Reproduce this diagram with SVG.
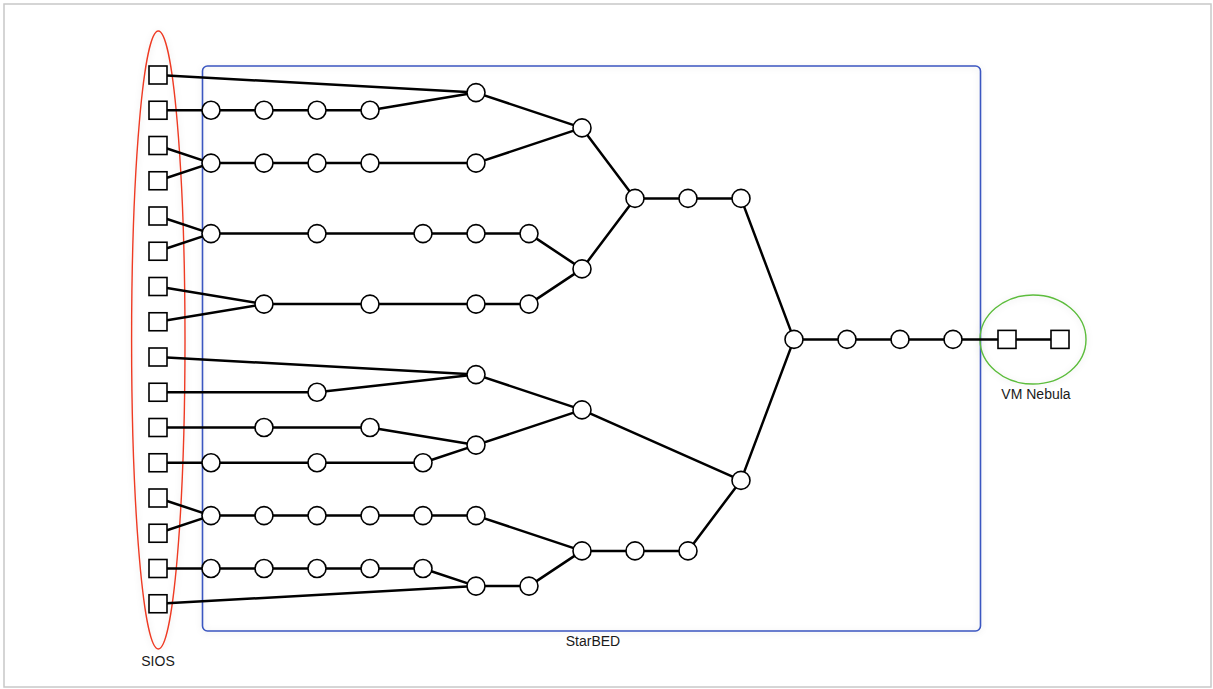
<svg xmlns="http://www.w3.org/2000/svg" width="1213" height="689" viewBox="0 0 1213 689">
<style>
.frame{fill:#ffffff;stroke:#c8c8c8;stroke-width:1.5}
.grp{fill:none;filter:url(#sh)}
.e{fill:none;stroke:#000;stroke-width:2.5;stroke-linejoin:round}
.n{fill:#fff;stroke:#000;stroke-width:1.6}
.t{font-family:"Liberation Sans",Arial,sans-serif;font-size:14px;fill:#1a1a1a;text-anchor:middle}
</style>
<defs>
<filter id="sh" x="-20%" y="-20%" width="140%" height="140%">
<feDropShadow dx="0" dy="1" stdDeviation="3" flood-color="#000" flood-opacity="0.12"/>
</filter>
</defs>
<rect class="frame" x="4" y="4" width="1207" height="683"/>
<g id="starbed">
<rect class="grp" x="202.5" y="66" width="778" height="565" rx="5" stroke="#3a56c0" stroke-width="1.6"/>
<text class="t" x="593" y="646">StarBED</text>
</g>
<g id="sios">
<ellipse class="grp" cx="158.3" cy="340" rx="26.7" ry="309" stroke="#ee3a24" stroke-width="1.4"/>
<text class="t" x="158" y="666">SIOS</text>
</g>
<g id="vmnebula">
<ellipse class="grp" cx="1033" cy="339.5" rx="53" ry="44.5" stroke="#5cbc3c" stroke-width="1.4"/>
<text class="t" x="1036" y="399">VM Nebula</text>
</g>
<g id="connectors">
<polyline class="e" points="158,75 476,92.6"/>
<polyline class="e" points="158,110.25 211,110.25 264,110.25 317,110.25 370,110.25 476,92.6 582,127.9"/>
<polyline class="e" points="158,145.5 211,163.1 158,180.75"/>
<polyline class="e" points="211,163.1 264,163.1 317,163.1 370,163.1 476,163.1 582,127.9 635,198.4 688,198.4 741,198.4 794,339.4"/>
<polyline class="e" points="158,216 211,233.6 158,251.25"/>
<polyline class="e" points="211,233.6 317,233.6 423,233.6 476,233.6 529,233.6 582,268.9"/>
<polyline class="e" points="158,286.5 264,304.1 158,321.75"/>
<polyline class="e" points="264,304.1 370,304.1 476,304.1 529,304.1 582,268.9 635,198.4"/>
<polyline class="e" points="794,339.4 847,339.4 900,339.4 953,339.4 1007,339.4 1060,339.4"/>
<polyline class="e" points="158,357 476,374.6"/>
<polyline class="e" points="158,392.25 317,392.25 476,374.6 582,409.9 741,480.4 794,339.4"/>
<polyline class="e" points="158,427.5 264,427.5 370,427.5 476,445.1 582,409.9"/>
<polyline class="e" points="158,462.75 211,462.75 317,462.75 423,462.75 476,445.1"/>
<polyline class="e" points="158,498 211,515.6 158,533.25"/>
<polyline class="e" points="211,515.6 264,515.6 317,515.6 370,515.6 423,515.6 476,515.6 582,550.9 635,550.9 688,550.9 741,480.4"/>
<polyline class="e" points="158,568.5 211,568.5 264,568.5 317,568.5 370,568.5 423,568.5 476,586.1 529,586.1 582,550.9"/>
<polyline class="e" points="158,603.75 476,586.1"/>
</g>
<g id="s1"><rect class="n" x="149" y="66" width="18" height="18"/></g>
<g id="s2"><rect class="n" x="149" y="101.25" width="18" height="18"/></g>
<g id="s3"><rect class="n" x="149" y="136.5" width="18" height="18"/></g>
<g id="s4"><rect class="n" x="149" y="171.75" width="18" height="18"/></g>
<g id="s5"><rect class="n" x="149" y="207" width="18" height="18"/></g>
<g id="s6"><rect class="n" x="149" y="242.25" width="18" height="18"/></g>
<g id="s7"><rect class="n" x="149" y="277.5" width="18" height="18"/></g>
<g id="s8"><rect class="n" x="149" y="312.75" width="18" height="18"/></g>
<g id="s9"><rect class="n" x="149" y="348" width="18" height="18"/></g>
<g id="s10"><rect class="n" x="149" y="383.25" width="18" height="18"/></g>
<g id="s11"><rect class="n" x="149" y="418.5" width="18" height="18"/></g>
<g id="s12"><rect class="n" x="149" y="453.75" width="18" height="18"/></g>
<g id="s13"><rect class="n" x="149" y="489" width="18" height="18"/></g>
<g id="s14"><rect class="n" x="149" y="524.25" width="18" height="18"/></g>
<g id="s15"><rect class="n" x="149" y="559.5" width="18" height="18"/></g>
<g id="s16"><rect class="n" x="149" y="594.75" width="18" height="18"/></g>
<g id="vm1"><rect class="n" x="998" y="330.4" width="18" height="18"/></g>
<g id="vm2"><rect class="n" x="1051" y="330.4" width="18" height="18"/></g>
<g id="c1"><circle class="n" cx="476" cy="92.6" r="9"/></g>
<g id="c2"><circle class="n" cx="211" cy="110.25" r="9"/></g>
<g id="c3"><circle class="n" cx="264" cy="110.25" r="9"/></g>
<g id="c4"><circle class="n" cx="317" cy="110.25" r="9"/></g>
<g id="c5"><circle class="n" cx="370" cy="110.25" r="9"/></g>
<g id="c6"><circle class="n" cx="582" cy="127.9" r="9"/></g>
<g id="c7"><circle class="n" cx="211" cy="163.1" r="9"/></g>
<g id="c8"><circle class="n" cx="264" cy="163.1" r="9"/></g>
<g id="c9"><circle class="n" cx="317" cy="163.1" r="9"/></g>
<g id="c10"><circle class="n" cx="370" cy="163.1" r="9"/></g>
<g id="c11"><circle class="n" cx="476" cy="163.1" r="9"/></g>
<g id="c12"><circle class="n" cx="635" cy="198.4" r="9"/></g>
<g id="c13"><circle class="n" cx="688" cy="198.4" r="9"/></g>
<g id="c14"><circle class="n" cx="741" cy="198.4" r="9"/></g>
<g id="c15"><circle class="n" cx="211" cy="233.6" r="9"/></g>
<g id="c16"><circle class="n" cx="317" cy="233.6" r="9"/></g>
<g id="c17"><circle class="n" cx="423" cy="233.6" r="9"/></g>
<g id="c18"><circle class="n" cx="476" cy="233.6" r="9"/></g>
<g id="c19"><circle class="n" cx="529" cy="233.6" r="9"/></g>
<g id="c20"><circle class="n" cx="582" cy="268.9" r="9"/></g>
<g id="c21"><circle class="n" cx="264" cy="304.1" r="9"/></g>
<g id="c22"><circle class="n" cx="370" cy="304.1" r="9"/></g>
<g id="c23"><circle class="n" cx="476" cy="304.1" r="9"/></g>
<g id="c24"><circle class="n" cx="529" cy="304.1" r="9"/></g>
<g id="c25"><circle class="n" cx="794" cy="339.4" r="9"/></g>
<g id="c26"><circle class="n" cx="847" cy="339.4" r="9"/></g>
<g id="c27"><circle class="n" cx="900" cy="339.4" r="9"/></g>
<g id="c28"><circle class="n" cx="953" cy="339.4" r="9"/></g>
<g id="c29"><circle class="n" cx="476" cy="374.6" r="9"/></g>
<g id="c30"><circle class="n" cx="317" cy="392.25" r="9"/></g>
<g id="c31"><circle class="n" cx="582" cy="409.9" r="9"/></g>
<g id="c32"><circle class="n" cx="264" cy="427.5" r="9"/></g>
<g id="c33"><circle class="n" cx="370" cy="427.5" r="9"/></g>
<g id="c34"><circle class="n" cx="476" cy="445.1" r="9"/></g>
<g id="c35"><circle class="n" cx="211" cy="462.75" r="9"/></g>
<g id="c36"><circle class="n" cx="317" cy="462.75" r="9"/></g>
<g id="c37"><circle class="n" cx="423" cy="462.75" r="9"/></g>
<g id="c38"><circle class="n" cx="741" cy="480.4" r="9"/></g>
<g id="c39"><circle class="n" cx="211" cy="515.6" r="9"/></g>
<g id="c40"><circle class="n" cx="264" cy="515.6" r="9"/></g>
<g id="c41"><circle class="n" cx="317" cy="515.6" r="9"/></g>
<g id="c42"><circle class="n" cx="370" cy="515.6" r="9"/></g>
<g id="c43"><circle class="n" cx="423" cy="515.6" r="9"/></g>
<g id="c44"><circle class="n" cx="476" cy="515.6" r="9"/></g>
<g id="c45"><circle class="n" cx="582" cy="550.9" r="9"/></g>
<g id="c46"><circle class="n" cx="635" cy="550.9" r="9"/></g>
<g id="c47"><circle class="n" cx="688" cy="550.9" r="9"/></g>
<g id="c48"><circle class="n" cx="211" cy="568.5" r="9"/></g>
<g id="c49"><circle class="n" cx="264" cy="568.5" r="9"/></g>
<g id="c50"><circle class="n" cx="317" cy="568.5" r="9"/></g>
<g id="c51"><circle class="n" cx="370" cy="568.5" r="9"/></g>
<g id="c52"><circle class="n" cx="423" cy="568.5" r="9"/></g>
<g id="c53"><circle class="n" cx="476" cy="586.1" r="9"/></g>
<g id="c54"><circle class="n" cx="529" cy="586.1" r="9"/></g>
</svg>
